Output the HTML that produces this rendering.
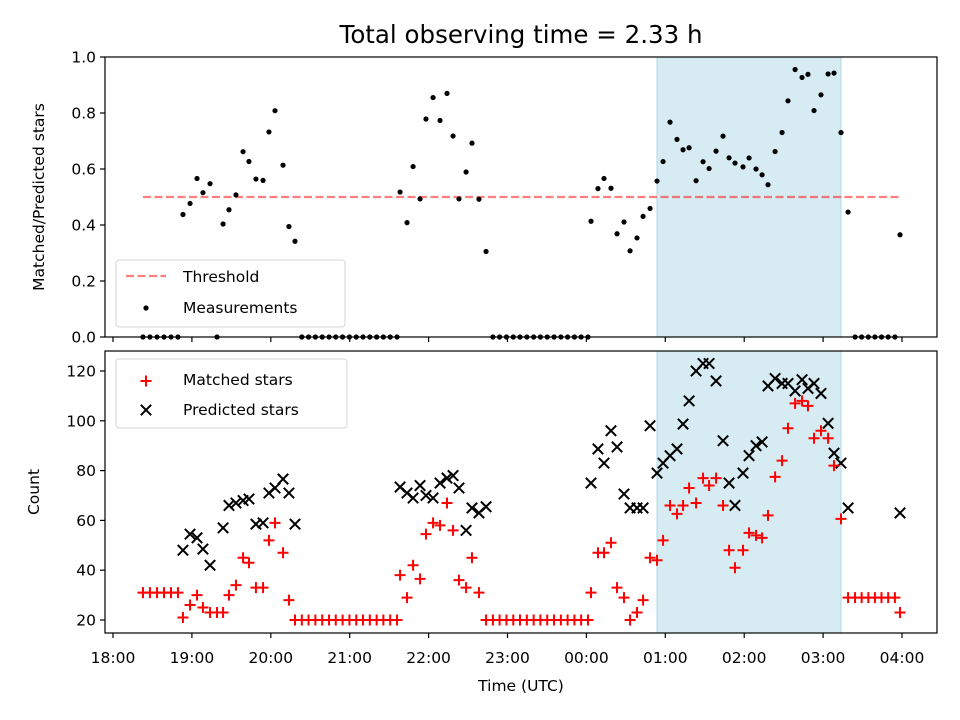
<!DOCTYPE html>
<html><head><meta charset="utf-8">
<style>
html,body{margin:0;padding:0;background:#fff;}
svg{display:block;font-family:"DejaVu Sans","Liberation Sans",sans-serif;}
</style></head>
<body>
<svg id="chart" width="960" height="720" viewBox="0 0 960 720" xmlns="http://www.w3.org/2000/svg"></svg>
<script>
// Times in minutes since 18:00 UTC
const times = [22.8,28.1,33.5,38.8,44.1,49.4,53.2,58.6,63.9,68.4,73.8,79.1,83.7,88.2,93.5,98.9,103.4,108.7,114.1,118.6,123.2,129.3,133.8,138.4,
143.6,148.7,153.9,159.1,164.3,169.4,174.6,179.8,185,190.1,195.3,200.5,205.6,210.8,216,
218.3,223.6,228.2,233.5,238,243.4,248.7,254,258.6,263.1,268.5,273,278.3,283.7,
288.9,294,299.2,304.4,309.5,314.7,319.9,325,330.2,335.4,340.6,345.7,350.9,356,361.2,
363.5,368.8,373.4,378.7,383.3,388.6,393.2,398.5,403.1,408.4,413.7,418.3,423.6,428.9,433.5,438.1,443.4,448.7,453.3,458.6,463.9,468.5,473,479.1,483.7,489,493.6,498.1,503.5,508.8,513.3,518.7,524,528.5,533.1,538.4,543.8,548.3,553.6,559,
564.3,569.3,574.4,579.4,584.4,589.5,594.6,598.5];
const matched = [31,31,31,31,31,31,21,26,30,25,23,23,23,30,34,45,43,33,33,52,59,47,28,20,
20,20,20,20,20,20,20,20,20,20,20,20,20,20,20,
38,29,42,36.5,54.5,59,58,67,56,36,33,45,31,20,
20,20,20,20,20,20,20,20,20,20,20,20,20,20,20,
31,47,47,51,33,29,20,23,28,45,44,52,66,62.6,66,73,67,77,74,77,66,48,41,48,55,54,53,62,77.5,84,97,107,108,106,93,96,93,82,60.6,29,
29,29,29,29,29,29,29,23];
const predicted = [null,null,null,null,null,null,48,54.5,53,48.5,42,null,57,66,67,68,68.6,58.5,59,71,73,76.6,71,58.5,
null,null,null,null,null,null,null,null,null,null,null,null,null,null,null,
73.4,71,69,74,70,69,75,77,78,73,56,65,63,65.5,
null,null,null,null,null,null,null,null,null,null,null,null,null,null,null,
75,88.7,83,96,89.5,70.6,65,65,65,98,79,83,86,88.7,98.7,108,120,123,123,116,92,75,66,79,86,90,91.5,114,117,115,115,112,116.5,113,115,111,99,87,83,65,
null,null,null,null,null,null,null,63];
const shadeRange = [413.7, 553.6];
const threshold = 0.5;
const thresholdRange = [22.8, 598.5];
const xTickLabels = ["18:00","19:00","20:00","21:00","22:00","23:00","00:00","01:00","02:00","03:00","04:00"];
const topTicks = [0,0.2,0.4,0.6,0.8,1.0];
const botTicks = [20,40,60,80,100,120];

const NS = "http://www.w3.org/2000/svg";
const svg = document.getElementById("chart");
function mk(tag, attrs, parent){
  const e = document.createElementNS(NS, tag);
  for (const k in attrs) e.setAttribute(k, attrs[k]);
  (parent||svg).appendChild(e);
  return e;
}
const L=105, R=937, FS="15.5";
const xS = m => 113 + (m/600)*(902-113);
const topT=57, topB=337, botT=351, botB=633;
const yTop = v => 337 - v*280;
const yBot = v => 620 - (v-20)*2.49;

const title = mk("text",{x:521,y:43,"font-size":"24.5","text-anchor":"middle",fill:"#000"});


title.textContent = "Total observing time = 2.33 h";

function panel(T,B,name){
  const g = mk("g",{});
  
  
  const sh = mk("rect",{x:xS(shadeRange[0]),y:T,width:xS(shadeRange[1])-xS(shadeRange[0]),height:B-T,fill:"#add8e6","fill-opacity":"0.5",stroke:"#add8e6","stroke-width":"1"},g);
  
  
  return g;
}
const gTop = panel(topT,topB,"ratio-panel");
const gBot = panel(botT,botB,"count-panel");

const th = mk("line",{x1:xS(thresholdRange[0]),x2:xS(thresholdRange[1]),y1:yTop(threshold),y2:yTop(threshold),stroke:"#ff0000","stroke-opacity":"0.5","stroke-width":"2.2","stroke-dasharray":"8,3.5"},gTop);



times.forEach((t,i)=>{
  const r = predicted[i] ? matched[i]/predicted[i] : 0;
  const c = mk("circle",{cx:xS(t),cy:yTop(r),r:2.6,fill:"#000"},gTop);
  
  
});
times.forEach((t,i)=>{
  if (predicted[i]==null) return;
  const x=xS(t), y=yBot(predicted[i]), s=5.2;
  const p = mk("path",{d:`M${x-s},${y-s}L${x+s},${y+s}M${x-s},${y+s}L${x+s},${y-s}`,stroke:"#000","stroke-width":"2",fill:"none"},gBot);
  
  
});
times.forEach((t,i)=>{
  const x=xS(t), y=yBot(matched[i]), s=5.5;
  const p = mk("path",{d:`M${x-s},${y}L${x+s},${y}M${x},${y-s}L${x},${y+s}`,stroke:"#ff0000","stroke-width":"2",fill:"none"},gBot);
  
  
});

[[topT,topB,"ratio-frame"],[botT,botB,"count-frame"]].forEach(([T,B,n])=>{
  const f = mk("rect",{x:L,y:T,width:R-L,height:B-T,fill:"none",stroke:"#000","stroke-width":"1.2"});
  
  
});

xTickLabels.forEach((lab,i)=>{
  const x = xS(i*60);
  mk("line",{x1:x,x2:x,y1:topB,y2:topB+5,stroke:"#000","stroke-width":"1.2"});
  mk("line",{x1:x,x2:x,y1:botB,y2:botB+5,stroke:"#000","stroke-width":"1.2"});
  const t = mk("text",{x:x,y:botB+30,"font-size":FS,"text-anchor":"middle",fill:"#000"});
  
  
  t.textContent = lab;
});
topTicks.forEach(v=>{
  const y=yTop(v);
  mk("line",{x1:L-5,x2:L,y1:y,y2:y,stroke:"#000","stroke-width":"1.2"});
  const t = mk("text",{x:L-9,y:y+5.5,"font-size":FS,"text-anchor":"end",fill:"#000"});
  
  
  t.textContent = v.toFixed(1);
});
botTicks.forEach(v=>{
  const y=yBot(v);
  mk("line",{x1:L-5,x2:L,y1:y,y2:y,stroke:"#000","stroke-width":"1.2"});
  const t = mk("text",{x:L-9,y:y+5.5,"font-size":FS,"text-anchor":"end",fill:"#000"});
  
  
  t.textContent = v;
});

const yl1 = mk("text",{x:0,y:0,"font-size":FS,"text-anchor":"middle",transform:"translate(44,197) rotate(-90)",fill:"#000"});


yl1.textContent="Matched/Predicted stars";
const yl2 = mk("text",{x:0,y:0,"font-size":FS,"text-anchor":"middle",transform:"translate(39,492) rotate(-90)",fill:"#000"});


yl2.textContent="Count";
const xl = mk("text",{x:521,y:691,"font-size":FS,"text-anchor":"middle",fill:"#000"});


xl.textContent="Time (UTC)";

const lg1 = mk("g",{});


mk("rect",{x:116,y:260,width:229,height:67,rx:3,fill:"#fff","fill-opacity":"0.8",stroke:"#d6d6d6","stroke-width":"1"},lg1);
mk("line",{x1:126,x2:166,y1:276,y2:276,stroke:"#ff0000","stroke-opacity":"0.5","stroke-width":"2.2","stroke-dasharray":"8,3.5"},lg1);
mk("circle",{cx:146,cy:308,r:2.6,fill:"#000"},lg1);
const lt1 = mk("text",{x:183,y:282,"font-size":FS,fill:"#000"},lg1); lt1.textContent="Threshold";
const lt2 = mk("text",{x:183,y:313,"font-size":FS,fill:"#000"},lg1); lt2.textContent="Measurements";

const lg2 = mk("g",{});


mk("rect",{x:116,y:359,width:231,height:69,rx:3,fill:"#fff","fill-opacity":"0.8",stroke:"#d6d6d6","stroke-width":"1"},lg2);
mk("path",{d:"M140.5,381L151.5,381M146,375.5L146,386.5",stroke:"#ff0000","stroke-width":"2",fill:"none"},lg2);
mk("path",{d:"M140.8,404.8L151.2,415.2M140.8,415.2L151.2,404.8",stroke:"#000","stroke-width":"2",fill:"none"},lg2);
const lt3 = mk("text",{x:183,y:385,"font-size":FS,fill:"#000"},lg2); lt3.textContent="Matched stars";
const lt4 = mk("text",{x:183,y:415,"font-size":FS,fill:"#000"},lg2); lt4.textContent="Predicted stars";
</script>
</body></html>
